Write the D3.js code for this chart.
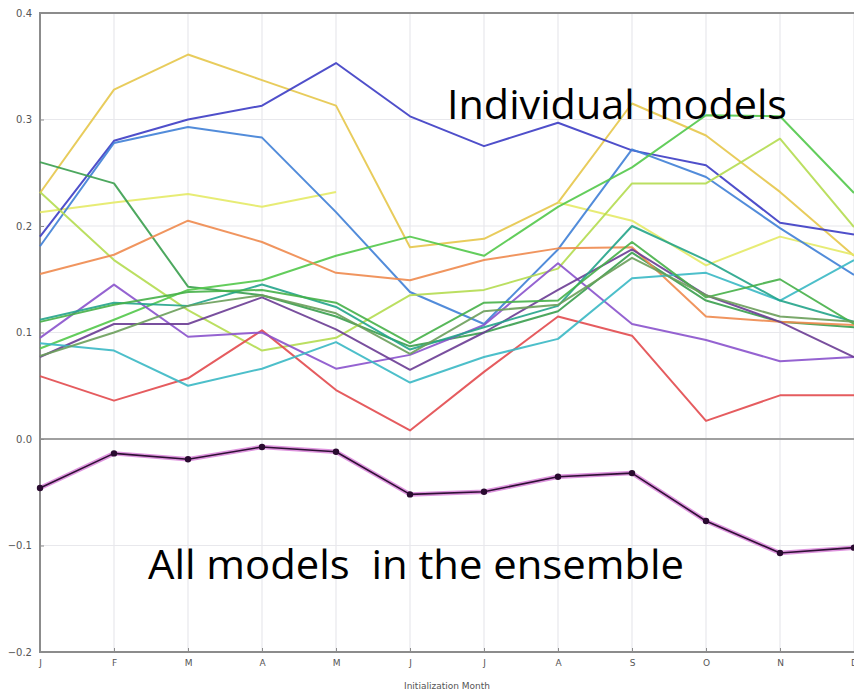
<!DOCTYPE html>
<html>
<head>
<meta charset="utf-8">
<script src="https://cdn.jsdelivr.net/npm/d3@7"></script>
<style>
  html, body { margin: 0; padding: 0; background: #ffffff; }
  svg { display: block; }
</style>
</head>
<body>
<div id="chart"></div>
<script>
// Initialization months (x axis)
const months = ["J", "F", "M", "A", "M", "J", "J", "A", "S", "O", "N", "D"];

// Y axis ticks
const yTicks = [-0.2, -0.1, 0.0, 0.1, 0.2, 0.3, 0.4];

// Individual model skill per initialization month (null = not initialized that month)
const modelNames = [
  "gold", "paleYellow", "darkBlue", "blue", "darkGreen", "yellowGreen", "brightGreen",
  "orange", "red", "violet", "darkPurple", "teal", "tealGreen", "green", "oliveGreen"
];
const modelColors = [
  "#e6c64a", "#e4ea66", "#3c3cc4", "#3f80d6", "#3a9e4e", "#b4dc50", "#52c84a",
  "#ee8a4e", "#e24a4e", "#8a52cc", "#6a3c94", "#3ab8c4", "#24a48a", "#46b048", "#6a9e5a"
];
const gold        = [0.231, 0.328, 0.361, 0.337, 0.313, 0.180, 0.188, 0.222, 0.315, 0.285, 0.232, 0.172];
const paleYellow  = [0.213, 0.222, 0.230, 0.218, 0.232, null,  null,  0.222, 0.205, 0.163, 0.190, 0.173];
const darkBlue    = [0.190, 0.280, 0.300, 0.313, 0.353, 0.303, 0.275, 0.297, 0.271, 0.257, 0.203, 0.192];
const blue        = [0.181, 0.278, 0.293, 0.283, 0.213, 0.138, 0.108, 0.178, 0.272, 0.246, 0.198, 0.154];
const darkGreen   = [0.260, 0.240, 0.143, 0.135, 0.115, 0.087, 0.100, 0.120, 0.175, 0.130, 0.110, 0.105];
const yellowGreen = [0.232, 0.168, 0.121, 0.083, 0.095, 0.135, 0.140, 0.160, 0.240, 0.240, 0.282, 0.199];
const brightGreen = [0.085, 0.112, 0.140, 0.149, 0.172, 0.190, 0.172, 0.218, 0.255, 0.304, 0.303, 0.231];
const orange      = [0.155, 0.173, 0.205, 0.185, 0.156, 0.149, 0.168, 0.179, 0.180, 0.115, 0.110, 0.107];
const red         = [0.059, 0.036, 0.057, 0.102, 0.046, 0.008, 0.063, 0.115, 0.097, 0.017, 0.041, 0.041];
const violet      = [0.095, 0.145, 0.096, 0.100, 0.066, 0.079, 0.107, 0.165, 0.108, 0.093, 0.073, 0.077];
const darkPurple  = [0.077, 0.108, 0.108, 0.133, 0.103, 0.065, 0.100, 0.140, 0.178, 0.135, 0.110, 0.077];
const teal        = [0.090, 0.083, 0.050, 0.066, 0.091, 0.053, 0.077, 0.094, 0.151, 0.156, 0.130, 0.168];
const tealGreen   = [0.112, 0.128, 0.125, 0.145, 0.124, 0.084, 0.105, 0.125, 0.200, 0.168, 0.130, 0.110];
const green       = [0.110, 0.126, 0.138, 0.140, 0.128, 0.090, 0.128, 0.130, 0.185, 0.133, 0.150, 0.108];
const oliveGreen  = [0.078, 0.100, 0.125, 0.135, 0.118, 0.080, 0.120, 0.126, 0.170, 0.135, 0.115, 0.110];

// Skill of the full multi-model ensemble
const ensemble = [-0.046, -0.0135, -0.019, -0.0075, -0.012, -0.052, -0.0495, -0.0355, -0.032, -0.077, -0.107, -0.102];

const xLabel = "Initialization Month";
const labelTop = "Individual models";
const labelBottom = "All models  in the ensemble";

const modelSeries = [gold, paleYellow, darkBlue, blue, darkGreen, yellowGreen, brightGreen,
                     orange, red, violet, darkPurple, teal, tealGreen, green, oliveGreen];

const width = 854, height = 694;
const margin = { left: 40, right: 0, top: 13, bottom: 42 };

const svg = d3.select("#chart").append("svg")
  .attr("width", width)
  .attr("height", height);

const x = d3.scaleLinear()
  .domain([0, months.length - 1])
  .range([margin.left, width - margin.right]);

const y = d3.scaleLinear()
  .domain([-0.2, 0.4])
  .range([height - margin.bottom, margin.top]);

// grid
const grid = svg.append("g");
grid.selectAll("line.vgrid")
  .data(d3.range(months.length))
  .join("line")
  .attr("x1", d => x(d)).attr("x2", d => x(d))
  .attr("y1", y(0.4)).attr("y2", y(-0.2))
  .attr("stroke", "#e8e8ec").attr("stroke-width", 1.2);
grid.selectAll("line.hgrid")
  .data(yTicks)
  .join("line")
  .attr("x1", x(0)).attr("x2", x(11))
  .attr("y1", d => y(d)).attr("y2", d => y(d))
  .attr("stroke", d => d === 0 ? "#a0a0a0" : "#e8e8ec")
  .attr("stroke-width", d => d === 0 ? 1.8 : 1.2);

// frame (left, top, bottom)
svg.append("path")
  .attr("d", `M${width},${y(0.4)} H${x(0)} V${y(-0.2)} H${width}`)
  .attr("fill", "none")
  .attr("stroke", "#8c8c8c")
  .attr("stroke-width", 2);

// y axis
const yAxis = d3.axisLeft(y)
  .tickValues(yTicks)
  .tickFormat(d3.format(".1f"))
  .tickSize(-4)
  .tickPadding(8);
const gy = svg.append("g")
  .attr("transform", `translate(${x(0)},0)`)
  .call(yAxis);
gy.select(".domain").remove();
gy.selectAll(".tick line").attr("stroke", "#8c8c8c");
gy.selectAll(".tick text")
  .attr("fill", "#555")
  .attr("font-family", "DejaVu Sans, sans-serif")
  .attr("font-size", 10)
  .text(d => d3.format(".1f")(d).replace("-", "\u2212"));

// x axis
const xAxis = d3.axisBottom(x)
  .tickValues(d3.range(months.length))
  .tickFormat(i => months[i])
  .tickSize(-4)
  .tickPadding(8);
const gx = svg.append("g")
  .attr("transform", `translate(0,${y(-0.2)})`)
  .call(xAxis);
gx.select(".domain").remove();
gx.selectAll(".tick line").attr("stroke", "#8c8c8c");
gx.selectAll(".tick text")
  .attr("fill", "#555")
  .attr("font-family", "DejaVu Sans, sans-serif")
  .attr("font-size", 9);

svg.append("text")
  .attr("x", (x(0) + x(11)) / 2)
  .attr("y", 689)
  .attr("text-anchor", "middle")
  .attr("fill", "#555")
  .attr("font-family", "DejaVu Sans, sans-serif")
  .attr("font-size", 9)
  .text(xLabel);

// individual model lines
const line = d3.line()
  .defined(d => d !== null)
  .x((d, i) => x(i))
  .y(d => y(d));

svg.append("g")
  .selectAll("path")
  .data(modelSeries)
  .join("path")
  .attr("d", d => line(d))
  .attr("fill", "none")
  .attr("stroke", (d, i) => modelColors[i])
  .attr("stroke-width", 2)
  .attr("stroke-linejoin", "round")
  .attr("opacity", 0.9);

// ensemble line with soft magenta halo
const ens = svg.append("g");
ens.append("path")
  .attr("d", line(ensemble))
  .attr("fill", "none")
  .attr("stroke", "#c84cc8")
  .attr("stroke-width", 4.5)
  .attr("stroke-linejoin", "round")
  .attr("opacity", 0.6);
ens.append("path")
  .attr("d", line(ensemble))
  .attr("fill", "none")
  .attr("stroke", "#2e1034")
  .attr("stroke-width", 1.6)
  .attr("stroke-linejoin", "round");
ens.selectAll("circle")
  .data(ensemble)
  .join("circle")
  .attr("cx", (d, i) => x(i))
  .attr("cy", d => y(d))
  .attr("r", 3.2)
  .attr("fill", "#2a0a30");

// annotations
svg.append("text")
  .attr("x", 447)
  .attr("y", 119)
  .attr("font-family", "Open Sans, sans-serif")
  .attr("font-size", 40)
  .attr("fill", "#000")
  .attr("textLength", 340)
  .attr("lengthAdjust", "spacingAndGlyphs")
  .text(labelTop);

svg.append("text")
  .attr("x", 148)
  .attr("y", 579)
  .attr("font-family", "Open Sans, sans-serif")
  .attr("font-size", 40)
  .attr("fill", "#000")
  .style("white-space", "pre")
  .attr("textLength", 536)
  .attr("lengthAdjust", "spacingAndGlyphs")
  .text(labelBottom);
</script>
</body>
</html>
